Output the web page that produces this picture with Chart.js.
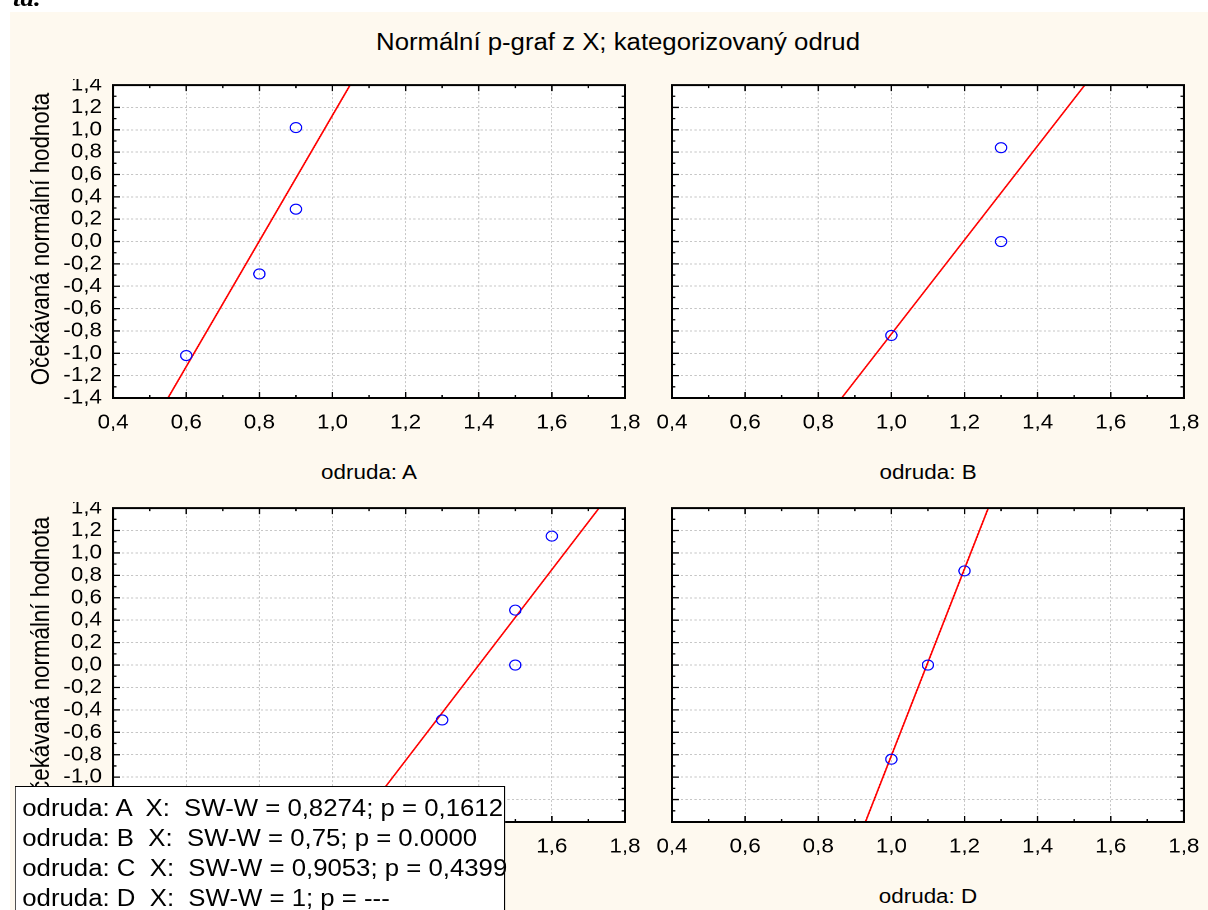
<!DOCTYPE html>
<html><head><meta charset="utf-8">
<script src="https://cdn.jsdelivr.net/npm/chart.js@4.4.1/dist/chart.umd.min.js"></script>
<style>
html,body{margin:0;padding:0;background:#fff;overflow:hidden;width:1208px;height:910px;}
#stage{position:absolute;left:0;top:0;width:1079px;height:910px;transform:scaleX(1.12);transform-origin:0 0;font-family:'Liberation Sans',Arial,sans-serif;color:#000;}
.cream{position:absolute;left:8.9px;top:12px;width:1071px;height:898px;background:#fef9ef;}
.txt{position:absolute;white-space:nowrap;line-height:1;}
.panel{position:absolute;}
#legendBox{position:absolute;left:13.4px;top:786px;width:437.5px;height:140px;box-sizing:border-box;border:1.5px solid #000;background:#fff;padding:5.5px 0 0 5.5px;font-size:23px;line-height:30px;white-space:pre;}
#docText{position:absolute;left:11.6px;top:-14px;font:italic bold 24px 'Liberation Serif',serif;line-height:1;white-space:nowrap;}
</style></head>
<body>
<div id="stage">
  <div id="docText">ta.</div>
  <div class="cream"></div>
  <div id="title" class="txt" style="font-size:23px;left:551.8px;top:30.5px;transform:translateX(-50%);"></div>
  <div id="ytitle0" class="txt" style="font-size:22.3px;left:37px;top:239px;transform:translate(-50%,-50%) rotate(-90deg);"></div>
  <div id="ytitle2" class="txt" style="font-size:22.3px;left:37px;top:663px;transform:translate(-50%,-50%) rotate(-90deg);"></div>
  <div id="sub0" class="txt" style="font-size:20px;left:329.5px;top:462.1px;transform:translateX(-50%);"></div>
  <div id="sub1" class="txt" style="font-size:20px;left:828.6px;top:462.1px;transform:translateX(-50%);"></div>
  <div id="sub2" class="txt" style="font-size:20px;left:329.5px;top:886.1px;transform:translateX(-50%);"></div>
  <div id="sub3" class="txt" style="font-size:20px;left:828.6px;top:886.1px;transform:translateX(-50%);"></div>
  <div class="panel" id="p0"><canvas id="c0"></canvas></div>
  <div class="panel" id="p1"><canvas id="c1"></canvas></div>
  <div class="panel" id="p2"><canvas id="c2"></canvas></div>
  <div class="panel" id="p3"><canvas id="c3"></canvas></div>
  <div id="legendBox"></div>
</div>
<script>
// ---------- data ----------
const chartTitle = 'Normální p-graf z X; kategorizovaný odrud';
const yAxisTitle = 'Očekávaná normální hodnota';
const panelNames = ['A', 'B', 'C', 'D'];
const xTickValues = [0.4, 0.6, 0.8, 1.0, 1.2, 1.4, 1.6, 1.8];
const yTickValues = [-1.4, -1.2, -1.0, -0.8, -0.6, -0.4, -0.2, 0.0, 0.2, 0.4, 0.6, 0.8, 1.0, 1.2, 1.4];

const obsX_A = [0.6, 0.8, 0.9, 0.9];
const expY_A = [-1.02, -0.29, 0.29, 1.02];
const obsX_B = [1.0, 1.3, 1.3];
const expY_B = [-0.84, 0.0, 0.84];
const obsX_C = [1.3, 1.5, 1.5, 1.6];
const expY_C = [-0.49, 0.0, 0.49, 1.15];
const obsX_D = [1.0, 1.1, 1.2];
const expY_D = [-0.84, 0.0, 0.84];

const fitX_A = [0.55, 1.048];
const fitX_B = [0.864, 1.529];
const fitX_C = [1.071, 1.729];
const fitX_D = [0.929, 1.265];
const fitY = [-1.4, 1.4];

const legendLines = [
  'odruda: A  X:  SW-W = 0,8274; p = 0,1612',
  'odruda: B  X:  SW-W = 0,75; p = 0.0000',
  'odruda: C  X:  SW-W = 0,9053; p = 0,4399',
  'odruda: D  X:  SW-W = 1; p = ---'
];

// ---------- text ----------
document.getElementById('title').textContent = chartTitle;
document.getElementById('ytitle0').textContent = yAxisTitle;
document.getElementById('ytitle2').textContent = yAxisTitle;
panelNames.forEach((n, i) => { document.getElementById('sub' + i).textContent = 'odruda: ' + n; });
document.getElementById('legendBox').textContent = legendLines.join('\n');

// ---------- layout (unscaled px; stage is stretched 1.12x horizontally) ----------
const AXW = 60, PAD = 4, PADR = 24, AXH = 40, PLOTW = 457;
const layouts = [
  {left: 41, top: 79, h: 315, yLabels: true},
  {left: 540, top: 79, h: 315, yLabels: false},
  {left: 41, top: 502, h: 316, yLabels: true},
  {left: 540, top: 502, h: 316, yLabels: false}
];

const fmt = v => Number(v).toFixed(1).replace('.', ',');
const FONT = "'Liberation Sans', Arial, sans-serif";
Chart.defaults.font.family = FONT;

const framePlugin = {
  id: 'frame',
  beforeDraw(chart) {
    const {ctx, chartArea: a} = chart;
    ctx.save();
    ctx.fillStyle = '#ffffff';
    ctx.fillRect(a.left, a.top, a.right - a.left, a.bottom - a.top);
    ctx.restore();
  },
  afterDraw(chart) {
    const {ctx, chartArea: a} = chart;
    const xs = chart.scales.x, ys = chart.scales.y;
    ctx.save();
    ctx.strokeStyle = '#000';
    ctx.lineWidth = 1.3;
    ctx.beginPath();
    for (let i = 4; i <= 18; i++) {
      const px = xs.getPixelForValue(i / 10);
      const len = i % 2 === 0 ? 6 : 3;
      ctx.moveTo(px, a.bottom); ctx.lineTo(px, a.bottom - len);
      ctx.moveTo(px, a.top); ctx.lineTo(px, a.top + len);
    }
    for (let i = -14; i <= 14; i++) {
      const py = ys.getPixelForValue(i / 10);
      const len = i % 2 === 0 ? 6 : 3;
      ctx.moveTo(a.left, py); ctx.lineTo(a.left + len, py);
      ctx.moveTo(a.right, py); ctx.lineTo(a.right - len, py);
    }
    ctx.stroke();
    ctx.lineWidth = 2;
    ctx.strokeRect(a.left, a.top, a.right - a.left, a.bottom - a.top);
    ctx.restore();
  }
};

const panels = [
  {ox: obsX_A, oy: expY_A, fx: fitX_A},
  {ox: obsX_B, oy: expY_B, fx: fitX_B},
  {ox: obsX_C, oy: expY_C, fx: fitX_C},
  {ox: obsX_D, oy: expY_D, fx: fitX_D}
];

panels.forEach((p, i) => {
  const L = layouts[i];
  const div = document.getElementById('p' + i);
  const W = AXW + PLOTW + PADR, H = PAD + L.h + AXH;
  div.style.left = L.left + 'px';
  div.style.top = L.top + 'px';
  div.style.width = W + 'px';
  div.style.height = H + 'px';
  const cv = document.getElementById('c' + i);
  cv.width = W; cv.height = H;
  cv.style.width = W + 'px'; cv.style.height = H + 'px';

  new Chart(cv, {
    type: 'scatter',
    data: {
      datasets: [
        {
          data: p.fx.map((x, k) => ({x: x, y: fitY[k]})),
          showLine: true, borderColor: '#ff0000', borderWidth: 1.5,
          pointRadius: 0, fill: false, order: 2
        },
        {
          data: p.ox.map((x, k) => ({x: x, y: p.oy[k]})),
          showLine: false, pointRadius: 5, pointStyle: 'circle',
          borderColor: '#0000ff', backgroundColor: 'rgba(0,0,0,0)',
          pointBorderColor: '#0000ff', pointBackgroundColor: 'rgba(0,0,0,0)',
          borderWidth: 1.1, pointBorderWidth: 1.1, order: 1
        }
      ]
    },
    options: {
      responsive: false,
      devicePixelRatio: 2,
      animation: false,
      layout: {padding: {top: PAD, right: PADR, left: 0, bottom: 0}},
      plugins: {legend: {display: false}, tooltip: {enabled: false}},
      scales: {
        x: {
          type: 'linear', min: 0.4, max: 1.8,
          afterBuildTicks: s => { s.ticks = xTickValues.map(v => ({value: v})); },
          afterFit: s => { s.height = AXH; s.paddingLeft = 0; s.paddingRight = 0; },
          ticks: {font: {size: 20}, color: '#000', padding: 13, maxRotation: 0, autoSkip: false, callback: v => fmt(v)},
          grid: {color: '#c6c6c6', lineWidth: 1, drawTicks: false},
          border: {display: false, dash: [2, 2]}
        },
        y: {
          type: 'linear', min: -1.4, max: 1.4,
          afterBuildTicks: s => { s.ticks = yTickValues.map(v => ({value: v})); },
          afterFit: s => { s.width = AXW; s.paddingTop = 0; s.paddingBottom = 0; },
          ticks: {display: L.yLabels, font: {size: 20}, color: '#000', padding: 10, autoSkip: false, callback: v => fmt(v)},
          grid: {color: '#c6c6c6', lineWidth: 1, drawTicks: false},
          border: {display: false, dash: [2, 2]}
        }
      }
    },
    plugins: [framePlugin]
  });
});
</script>
</body></html>
